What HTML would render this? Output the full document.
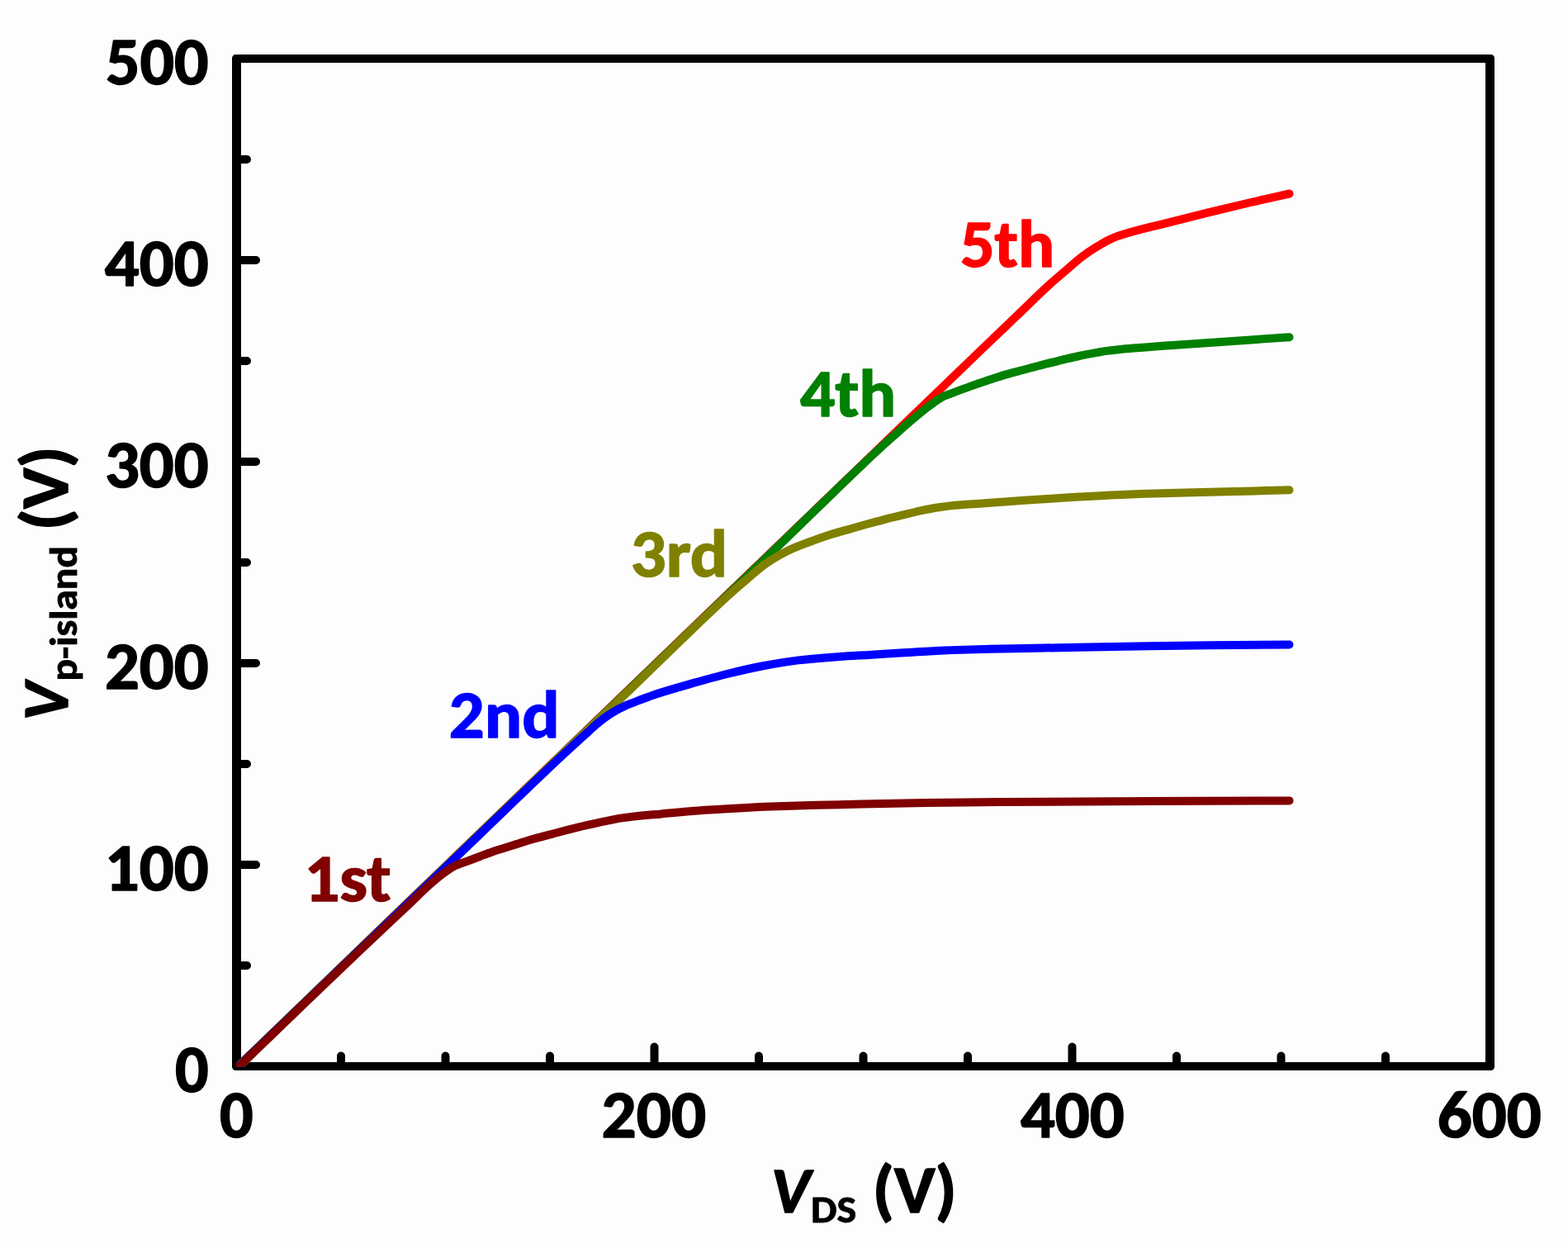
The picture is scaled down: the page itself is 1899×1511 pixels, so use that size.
<!DOCTYPE html>
<html><head><meta charset="utf-8"><title>Vp-island vs VDS</title>
<style>html,body{margin:0;padding:0;background:#fdfdfd;overflow:hidden}svg{display:block}text{font-size-adjust:cap-height 0.6484}</style>
</head><body>
<svg width="1899" height="1511" viewBox="0 0 1899 1511">
<rect x="0" y="0" width="1899" height="1511" fill="#fdfdfd"/>
<defs><clipPath id="pa"><rect x="286.0" y="71.0" width="1518.5" height="1220.5"/></clipPath></defs>
<path d="M286.5 1169.0H299.0M286.5 1047.0H310.0M286.5 925.0H299.0M286.5 803.0H310.0M286.5 681.0H299.0M286.5 559.0H310.0M286.5 437.0H299.0M286.5 315.0H310.0M286.5 193.0H299.0M413.0 1291.0V1278.5M539.5 1291.0V1278.5M666.0 1291.0V1278.5M792.5 1291.0V1267.5M919.0 1291.0V1278.5M1045.5 1291.0V1278.5M1172.0 1291.0V1278.5M1298.5 1291.0V1267.5M1425.0 1291.0V1278.5M1551.5 1291.0V1278.5M1678.0 1291.0V1278.5" stroke="#000" stroke-width="10" stroke-linecap="round" fill="none"/>
<path fill="#000" fill-rule="evenodd" d="M285.5 66H1805.5A4.5 4.5 0 0 1 1810 70.5V1291.5A4.5 4.5 0 0 1 1805.5 1296H285.5A4.5 4.5 0 0 1 281 1291.5V70.5A4.5 4.5 0 0 1 285.5 66ZM292 76H1799V1286H292Z"/>
<g clip-path="url(#pa)" fill="none" stroke-width="10" stroke-linecap="round" stroke-linejoin="round"><path d="M286.50 1293.00 C587.67 1002.66 888.83 710.76 1190.00 421.99 C1203.80 408.76 1217.60 395.60 1231.40 382.41 C1244.27 370.11 1257.13 357.15 1270.00 345.50 C1277.23 338.96 1284.47 332.90 1291.70 326.70 C1297.67 321.58 1303.63 316.03 1309.60 311.50 C1315.53 307.00 1321.47 302.95 1327.40 299.30 C1333.37 295.63 1339.33 291.90 1345.30 289.30 C1350.57 287.00 1355.83 285.25 1361.10 283.60 C1377.97 278.33 1394.83 274.64 1411.70 270.30 C1428.53 265.97 1445.37 261.73 1462.20 257.60 C1479.07 253.47 1495.93 249.42 1512.80 245.50 C1529.03 241.73 1545.27 238.17 1561.50 234.50" stroke="#ff0000"/><path d="M286.50 1293.00 C507.53 1080.13 728.57 866.84 949.60 654.40 C990.33 615.25 1031.07 574.23 1071.80 537.10 C1077.87 531.57 1083.93 526.31 1090.00 521.00 C1095.97 515.78 1101.93 510.47 1107.90 505.50 C1113.83 500.55 1119.77 495.46 1125.70 491.20 C1131.67 486.92 1137.63 482.41 1143.60 479.60 C1146.43 478.26 1149.27 477.38 1152.10 476.30 C1159.47 473.50 1166.83 470.73 1174.20 468.10 C1181.57 465.47 1188.93 462.95 1196.30 460.50 C1203.70 458.04 1211.10 455.52 1218.50 453.37 C1225.87 451.22 1233.23 449.43 1240.60 447.47 C1247.97 445.50 1255.33 443.44 1262.70 441.57 C1270.07 439.69 1277.43 437.96 1284.80 436.20 C1292.17 434.44 1299.53 432.55 1306.90 431.00 C1314.27 429.45 1321.63 428.13 1329.00 426.80 C1332.67 426.14 1336.33 425.39 1340.00 424.90 C1350.77 423.46 1361.53 422.55 1372.30 421.60 C1388.20 420.19 1404.10 419.07 1420.00 417.92 C1438.43 416.59 1456.87 415.42 1475.30 414.17 C1504.03 412.22 1532.77 410.26 1561.50 408.31" stroke="#008000"/><path d="M286.50 1294.30 C418.47 1166.86 550.43 1038.51 682.40 911.97 C709.23 886.24 736.07 860.74 762.90 835.13 C805.27 794.69 847.63 751.50 890.00 713.81 C895.97 708.50 901.93 703.55 907.90 698.50 C913.83 693.48 919.77 687.87 925.70 683.60 C931.67 679.30 937.63 675.62 943.60 672.30 C949.57 668.98 955.53 666.00 961.50 663.40 C967.43 660.82 973.37 658.70 979.30 656.50 C987.60 653.43 995.90 650.33 1004.20 647.71 C1011.57 645.39 1018.93 643.49 1026.30 641.38 C1033.70 639.25 1041.10 637.07 1048.50 635.01 C1055.87 632.96 1063.23 630.93 1070.60 629.05 C1077.97 627.17 1085.33 625.48 1092.70 623.70 C1100.07 621.92 1107.43 619.89 1114.80 618.35 C1122.17 616.81 1129.53 615.38 1136.90 614.30 C1144.27 613.22 1151.63 612.27 1159.00 611.60 C1163.43 611.20 1167.87 610.91 1172.30 610.60 C1241.53 605.80 1310.77 600.41 1380.00 598.02 C1411.77 596.92 1443.53 596.38 1475.30 595.55 C1504.03 594.81 1532.77 594.07 1561.50 593.32" stroke="#808000"/><path d="M286.50 1293.36 C355.93 1226.62 425.37 1159.88 494.80 1093.14 C518.40 1070.46 542.00 1047.73 565.60 1025.09 C604.53 987.74 643.47 949.52 682.40 913.30 C692.40 904.00 702.40 894.85 712.40 885.90 C716.90 881.87 721.40 877.57 725.90 874.00 C731.20 869.80 736.50 865.79 741.80 862.60 C747.07 859.43 752.33 856.77 757.60 854.40 C762.90 852.02 768.20 850.14 773.50 848.10 C779.00 845.98 784.50 843.77 790.00 841.90 C804.73 836.89 819.47 832.82 834.20 828.60 C848.97 824.37 863.73 820.15 878.50 816.50 C893.23 812.85 907.97 809.26 922.70 806.50 C937.47 803.73 952.23 801.09 967.00 799.40 C981.73 797.71 996.47 796.53 1011.20 795.45 C1025.93 794.37 1040.67 793.62 1055.40 792.70 C1070.17 791.78 1084.93 790.81 1099.70 789.95 C1114.43 789.09 1129.17 788.10 1143.90 787.50 C1162.33 786.75 1180.77 786.19 1199.20 785.75 C1220.93 785.24 1242.67 784.93 1264.40 784.52 C1306.50 783.72 1348.60 782.67 1390.70 782.13 C1447.63 781.39 1504.57 781.04 1561.50 780.50" stroke="#0000ff"/><path d="M286.50 1294.00 C313.80 1267.73 341.10 1241.35 368.40 1215.20 C388.93 1195.53 409.47 1175.89 430.00 1156.41 C451.60 1135.92 473.20 1115.68 494.80 1095.31 C503.90 1086.73 513.00 1077.47 522.10 1069.57 C527.03 1065.29 531.97 1061.04 536.90 1057.50 C541.80 1053.98 546.70 1050.39 551.60 1048.07 C556.53 1045.73 561.47 1044.36 566.40 1042.51 C571.30 1040.66 576.20 1038.82 581.10 1036.98 C586.03 1035.12 590.97 1033.11 595.90 1031.42 C600.80 1029.74 605.70 1028.33 610.60 1026.78 C615.53 1025.23 620.47 1023.68 625.40 1022.12 C630.27 1020.59 635.13 1018.95 640.00 1017.52 C649.50 1014.73 659.00 1012.28 668.50 1009.80 C683.23 1005.95 697.97 1001.97 712.70 998.70 C727.47 995.42 742.23 991.89 757.00 989.90 C771.73 987.92 786.47 986.79 801.20 985.40 C815.93 984.01 830.67 982.56 845.40 981.50 C860.17 980.44 874.93 979.61 889.70 978.80 C904.43 977.99 919.17 977.18 933.90 976.60 C952.33 975.87 970.77 975.24 989.20 974.80 C1063.00 973.03 1136.80 971.56 1210.60 971.00 C1327.57 970.12 1444.53 969.93 1561.50 969.40" stroke="#800000"/></g>
<g font-family='"Carlito", "Liberation Sans", "DejaVu Sans", sans-serif' font-weight="bold" font-size="80" fill="#000" stroke-width="1.5" stroke-linejoin="round"><text x="127.95" y="101.70" textLength="124.71" lengthAdjust="spacingAndGlyphs" stroke="#000">500</text><text x="126.80" y="345.70" textLength="125.86" lengthAdjust="spacingAndGlyphs" stroke="#000">400</text><text x="126.93" y="589.70" textLength="125.73" lengthAdjust="spacingAndGlyphs" stroke="#000">300</text><text x="126.93" y="833.70" textLength="125.73" lengthAdjust="spacingAndGlyphs" stroke="#000">200</text><text x="126.72" y="1077.70" textLength="125.94" lengthAdjust="spacingAndGlyphs" stroke="#000">100</text><text x="211.90" y="1321.70" textLength="40.65" lengthAdjust="spacingAndGlyphs" stroke="#000">0</text><text x="265.95" y="1376.55" textLength="40.65" lengthAdjust="spacingAndGlyphs" stroke="#000">0</text><text x="728.49" y="1376.55" textLength="126.60" lengthAdjust="spacingAndGlyphs" stroke="#000">200</text><text x="1235.90" y="1376.55" textLength="125.86" lengthAdjust="spacingAndGlyphs" stroke="#000">400</text><text x="1740.78" y="1376.55" textLength="126.04" lengthAdjust="spacingAndGlyphs" stroke="#000">600</text><text x="368.41" y="1091.15" textLength="105.11" lengthAdjust="spacingAndGlyphs" stroke="#800000" fill="#800000">1st</text><text x="543.88" y="892.95" textLength="133.78" lengthAdjust="spacingAndGlyphs" stroke="#0000ff" fill="#0000ff">2nd</text><text x="763.78" y="698.25" textLength="117.38" lengthAdjust="spacingAndGlyphs" stroke="#808000" fill="#808000">3rd</text><text x="969.00" y="504.05" textLength="116.26" lengthAdjust="spacingAndGlyphs" stroke="#008000" fill="#008000">4th</text><text x="1162.95" y="323.05" textLength="114.26" lengthAdjust="spacingAndGlyphs" stroke="#ff0000" fill="#ff0000">5th</text><text x="933.78" y="1468.25" textLength="47.51" lengthAdjust="spacingAndGlyphs" font-style="italic" stroke="#000">V</text><text x="981.95" y="1480.15" textLength="55.28" lengthAdjust="spacingAndGlyphs" font-size="47.2" stroke="#000" stroke-width="0.885">DS</text><text x="1056.80" y="1468.25" textLength="101.96" lengthAdjust="spacingAndGlyphs" stroke="#000">(V)</text></g>
<g font-family='"Carlito", "Liberation Sans", "DejaVu Sans", sans-serif' font-weight="bold" font-size="80" fill="#000" stroke-width="1.5" stroke-linejoin="round" transform="rotate(-90)"><text x="-872.51" y="81.95" textLength="46.23" lengthAdjust="spacingAndGlyphs" font-style="italic" stroke="#000">V</text><text x="-824.60" y="93.36" textLength="163.66" lengthAdjust="spacingAndGlyphs" font-size="47.2" stroke="#000" stroke-width="0.885">p-island</text><text x="-642.19" y="82.25" textLength="101.85" lengthAdjust="spacingAndGlyphs" stroke="#000">(V)</text></g>
</svg>
</body></html>
